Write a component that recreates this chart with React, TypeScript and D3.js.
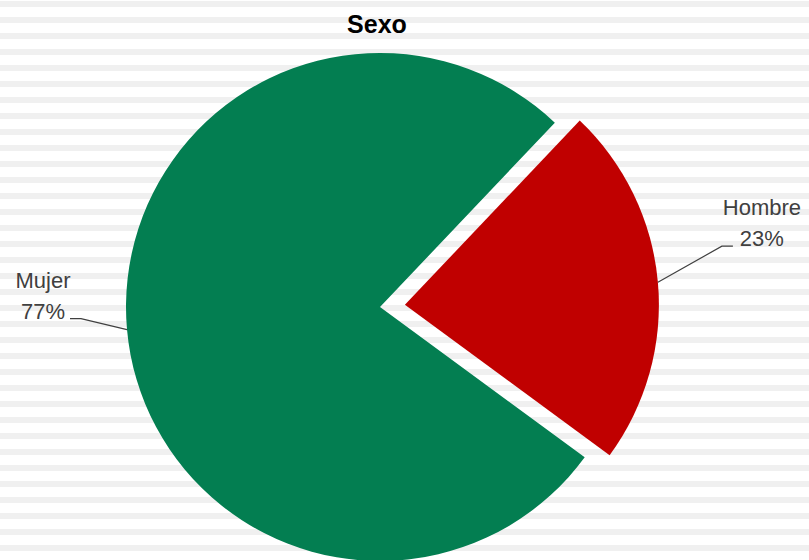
import React from "react";
import * as d3 from "d3";

const title = "Sexo";
const categories = ["Hombre", "Mujer"];
const values = [23, 77];
const colors = ["#C00000", "#037E51"];
// label elbow offsets relative to slice edge (layout)
const labelOffsets = [
  { dx: 64, dy: -36, hx: 11, tx: 29 },
  { dx: -46, dy: -11, hx: -11, tx: -27 },
];

const W = 809;
const H = 560;
const cx = 380;
const cy = 307;
const R = 254;
const explode = 25;
const startDeg = 43.5;

export default function App() {
  React.useEffect(() => {
    document.body.style.margin = "0";
  }, []);
  const total = d3.sum(values);
  const pie = d3
    .pie<number>()
    .sort(null)
    .startAngle((startDeg * Math.PI) / 180)
    .endAngle((startDeg * Math.PI) / 180 + 2 * Math.PI);
  const arcs = pie(values);
  const arc = d3.arc<d3.PieArcDatum<number>>().innerRadius(0).outerRadius(R);
  const stripes = d3.range(1, H, 16);

  return (
    <svg width={W} height={H} style={{ display: "block", position: "absolute", left: 0, top: 0 }}>
      <rect x={0} y={0} width={W} height={H} fill="#ffffff" />
      {stripes.map((y) => (
        <rect key={y} x={0} y={y} width={W} height={6} fill="#f0f0f0" />
      ))}
      {arcs.map((a, i) => {
        const mid = (a.startAngle + a.endAngle) / 2;
        const off = i === 0 ? explode : 0;
        const ox = cx + off * Math.sin(mid);
        const oy = cy - off * Math.cos(mid);
        const ex = ox + R * Math.sin(mid);
        const ey = oy - R * Math.cos(mid);
        const lo = labelOffsets[i];
        const elx = ex + lo.dx;
        const ely = ey + lo.dy;
        const hx = elx + lo.hx;
        const tx = hx + lo.tx;
        const pct = Math.round((values[i] / total) * 100) + "%";
        return (
          <g key={categories[i]}>
            <path d={arc(a) || ""} transform={`translate(${ox},${oy})`} fill={colors[i]} />
            <polyline
              points={`${ex},${ey} ${elx},${ely} ${hx},${ely}`}
              fill="none"
              stroke="#404040"
              strokeWidth={1.2}
            />
            <text
              x={tx}
              y={ely - 31}
              textAnchor="middle"
              fontFamily="Liberation Sans, Arial, sans-serif"
              fontSize={22}
              fill="#404040"
            >
              {categories[i]}
            </text>
            <text
              x={tx}
              y={ely}
              textAnchor="middle"
              fontFamily="Liberation Sans, Arial, sans-serif"
              fontSize={22}
              fill="#404040"
            >
              {pct}
            </text>
          </g>
        );
      })}
      <text
        x={377}
        y={33}
        textAnchor="middle"
        fontFamily="Liberation Sans, Arial, sans-serif"
        fontWeight="bold"
        fontSize={25}
        fill="#000000"
      >
        {title}
      </text>
    </svg>
  );
}
